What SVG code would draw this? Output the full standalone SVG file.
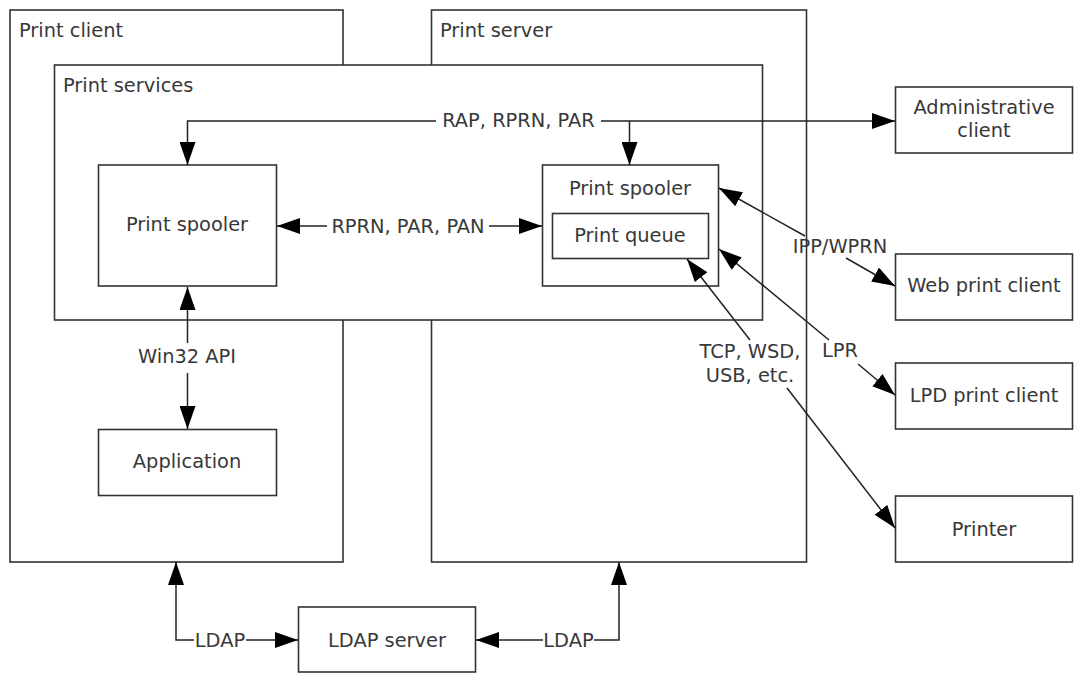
<svg xmlns="http://www.w3.org/2000/svg" width="1077" height="673" viewBox="0 0 1077 673">
<style>
.box{fill:#fff;stroke:#333;stroke-width:1.6}
.t{font-family:"DejaVu Sans",Verdana,sans-serif;font-size:19.4px;fill:#383838}
.c{text-anchor:middle}
.ln{fill:none;stroke:#222;stroke-width:1.5;marker-end:url(#ah)}
</style>
<defs>
<marker id="ah" markerUnits="userSpaceOnUse" markerWidth="23" markerHeight="16" refX="23" refY="8" orient="auto" viewBox="0 0 23 16">
<path d="M0,0 L23,8 L0,16 z" fill="#000"/>
</marker>
</defs>
<rect width="1077" height="673" fill="#fff"/>
<g id="print-client"><rect class="box" x="10" y="10" width="333" height="552"/><text class="t" x="19" y="37">Print client</text></g>
<g id="print-server"><rect class="box" x="431.5" y="10" width="375" height="552"/><text class="t" x="440" y="37">Print server</text></g>
<g id="print-services"><rect class="box" x="54.5" y="65" width="708" height="255"/><text class="t" x="63" y="92">Print services</text></g>
<g id="client-spooler"><rect class="box" x="98.5" y="165" width="178" height="121"/><text class="t c" x="187" y="231">Print spooler</text></g>
<g id="server-spooler"><rect class="box" x="542.5" y="165" width="176" height="121"/><text class="t c" x="630" y="195">Print spooler</text></g>
<g id="print-queue"><rect class="box" x="552.5" y="213.5" width="156" height="45"/><text class="t c" x="630" y="242">Print queue</text></g>
<g id="application"><rect class="box" x="98.5" y="429.5" width="178" height="66"/><text class="t c" x="187" y="468">Application</text></g>
<g id="admin-client"><rect class="box" x="895.5" y="87" width="177" height="66"/><text class="t c" x="984" y="114">Administrative</text><text class="t c" x="984" y="137">client</text></g>
<g id="web-print-client"><rect class="box" x="895.5" y="254" width="177" height="66"/><text class="t c" x="984" y="292">Web print client</text></g>
<g id="lpd-print-client"><rect class="box" x="895.5" y="363" width="177" height="66"/><text class="t c" x="984" y="402">LPD print client</text></g>
<g id="printer"><rect class="box" x="895.5" y="496" width="177" height="66"/><text class="t c" x="984" y="536">Printer</text></g>
<g id="ldap-server"><rect class="box" x="298.5" y="607" width="177" height="65"/><text class="t c" x="387" y="647">LDAP server</text></g>
<g id="connectors">
<path class="ln" d="M436,121 H187.5 V165"/>
<path class="ln" d="M601,121 H895"/>
<path class="ln" d="M629.5,121 V165"/>
<text class="t c" x="518.5" y="127">RAP, RPRN, PAR</text>
<path class="ln" d="M327,226 H277"/>
<path class="ln" d="M489,226 H542"/>
<text class="t c" x="408" y="233">RPRN, PAR, PAN</text>
<path class="ln" d="M187.5,343 V287"/>
<path class="ln" d="M187.5,373 V429"/>
<text class="t c" x="187" y="363">Win32 API</text>
<path class="ln" d="M805,236 L719,188"/>
<path class="ln" d="M846,258 L895,286"/>
<text class="t c" x="840" y="253">IPP/WPRN</text>
<path class="ln" d="M829,340 L719,249"/>
<path class="ln" d="M858,364 L895,395"/>
<text class="t c" x="840" y="357">LPR</text>
<path class="ln" d="M750,340 L687,259"/>
<path class="ln" d="M787,388 L895,528"/>
<text class="t c" x="750" y="358">TCP, WSD,</text>
<text class="t c" x="750" y="382">USB, etc.</text>
<path class="ln" d="M194,640 H176 V562"/>
<path class="ln" d="M246,640 H298"/>
<text class="t c" x="220" y="647">LDAP</text>
<path class="ln" d="M543,640 H476"/>
<path class="ln" d="M594,640 H619 V562"/>
<text class="t c" x="568.5" y="647">LDAP</text>
</g>
</svg>
